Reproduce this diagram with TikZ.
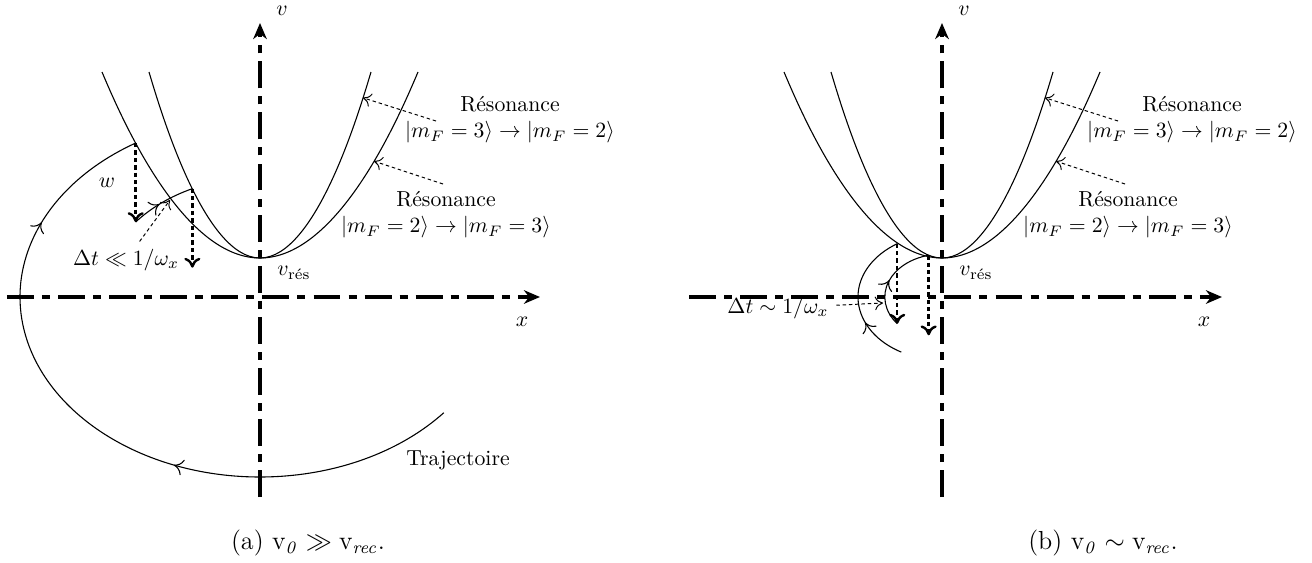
\documentclass[tikz,border=0pt]{standalone}
\usepackage{amsmath,amssymb}
\usepackage{tikz}
\usetikzlibrary{arrows.meta,positioning,calc,decorations.markings}

\begin{document}
\begin{tikzpicture}[x=0.46pt,y=0.46pt,
  ax/.style={-{Stealth[length=2.6mm,width=2.2mm]},line width=1.4pt,dash pattern=on 12.4pt off 3.7pt on 3.7pt off 3.7pt},
  tr/.style={line width=0.5pt},
  dr/.style={-{To[length=1.6mm,width=2.6mm]},line width=1.1pt,dash pattern=on 2pt off 1.4pt},
  la/.style={-{To[length=1.3mm,width=2.2mm]},line width=0.45pt,dash pattern=on 1.6pt off 1.3pt},
  mk/.style={postaction={decorate,decoration={markings,mark=at position #1 with {\arrow{To[length=1.5mm,width=2.6mm]}}}}}]
  \useasboundingbox (-260,-265) rectangle (1052,297);
  % axes, parabolas and resonance labels, same in both panels
  \foreach \s/\p in {0/a,682/b}{
    \begin{scope}[shift={(\s,0)}]
      \coordinate (xl\p) at (-253,0); \coordinate (xr\p) at (280,0);
      \coordinate (vb\p) at (0,-200); \coordinate (vt\p) at (0,274);
      \draw[ax] (xl\p)--(xr\p);
      \draw[ax] (vb\p)--(vt\p);
      \node (lx\p) at (262,-25) {$x$};
      \node (lv\p) at (22,286) {$v$};
      \node (vr\p) at (34,24) {$v_{\text{rés}}$};
      \draw[tr] (-158,225) parabola bend (0,39) (158,225);
      \draw[tr] (-111,225) parabola bend (0,39) (111,225);
      \node[align=center] (ra\p) at (250,177) {Résonance\\$|m_F=3\rangle\rightarrow|m_F=2\rangle$};
      \node[align=center] (rb\p) at (186,82) {Résonance\\$|m_F=2\rangle\rightarrow|m_F=3\rangle$};
      \coordinate (qa\p) at (176,176); \coordinate (pa\p) at (103,199.2);
      \coordinate (qb\p) at (183,113); \coordinate (pb\p) at (114,135.8);
      \draw[la] (qa\p)--(pa\p);
      \draw[la] (qb\p)--(pb\p);
    \end{scope}}
  % (a) large oscillation
  \coordinate (h1) at (121.2:240 and 180);
  \coordinate (d1) at ($(h1)+(0,-79)$);
  \coordinate (h2) at (115.1:159.5 and 119.6);
  \coordinate (d2) at ($(h2)+(0,-79)$);
  \coordinate (x1) at (-90,97);
  \draw[tr,mk=0.39,mk=0.83] (-40:240 and 180) arc[start angle=-40,end angle=-238.8,x radius=240,y radius=180];
  \draw[dr] (h1)--(d1);
  \draw[tr,mk=0.45] (d1) arc[start angle=141.2,end angle=115.1,x radius=159.5,y radius=119.6];
  \draw[dr] (h2)--(d2);
  \node (wl) at (-153,114) {$w$};
  \node (dta) at (-134,37) {$\Delta t\ll 1/\omega_x$};
  \draw[la] (dta)--(x1);
  \node (trj) at (198,-163) {Trajectoire};
  \node (capa) at (48,-246) {\large (a) v$_{\mathit{0}}\gg{}$v$_{\mathit{rec}}$.};
  % (b) small oscillation
  \begin{scope}[shift={(682,0)}]
    \coordinate (h3) at (122.2:84 and 63);
    \coordinate (d3) at ($(h3)+(0,-80)$);
    \coordinate (h4) at (103.5:57.2 and 42.9);
    \coordinate (d4) at ($(h4)+(0,-80)$);
    \coordinate (x2) at (-59,-6);
    \draw[tr,mk=0.33] (241:84 and 63) arc[start angle=241,end angle=122.2,x radius=84,y radius=63];
    \draw[dr] (h3)--(d3);
    \draw[tr,mk=0.5] (d3) arc[start angle=218.5,end angle=103.5,x radius=57.2,y radius=42.9];
    \draw[dr] (h4)--(d4);
    \node (dtb) at (-164,-11) {$\Delta t\sim 1/\omega_x$};
    \draw[la] (dtb)--(x2);
    \node (capb) at (161,-246) {\large (b) v$_{\mathit{0}}\sim{}$v$_{\mathit{rec}}$.};
  \end{scope}
\end{tikzpicture}
\end{document}
